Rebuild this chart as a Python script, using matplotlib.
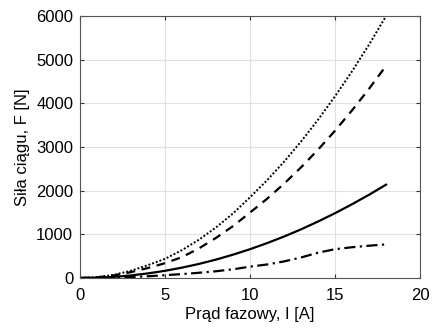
import numpy as np
import matplotlib
matplotlib.use("Agg")
from matplotlib import pyplot as plt

plt.rcParams["font.family"] = ["Liberation Sans", "DejaVu Sans"]

I = [0, 1, 2, 3, 4, 5, 6, 7, 8, 9, 10, 11, 12, 13, 14, 15, 16, 17, 18]
F_dot = [0, 18, 74, 167, 296, 440, 640, 880, 1160, 1480, 1850, 2239, 2664, 3127, 3626, 4163, 4736, 5347, 6000]
F_dash = [0, 15, 60, 135, 230, 340, 480, 680, 920, 1190, 1500, 1815, 2160, 2535, 2940, 3375, 3840, 4335, 4860]
F_solid = [0, 7, 26, 59, 106, 165, 238, 323, 422, 535, 660, 799, 950, 1115, 1294, 1485, 1690, 1907, 2138]
F_dashdot = [0, 3, 10, 22, 40, 65, 90, 120, 155, 200, 260, 310, 380, 470, 580, 660, 705, 740, 770]

fig = plt.figure(figsize=(4.33, 3.29), dpi=100)
ax = fig.add_axes([0.185, 0.155, 0.785, 0.796])

ax.plot(I, F_dot, color="black", linestyle=(0, (1, 1)), linewidth=1.4)
ax.plot(I, F_dash, color="black", linestyle=(0, (4, 3)), linewidth=1.6)
ax.plot(I, F_solid, color="black", linestyle="-", linewidth=1.6)
ax.plot(I, F_dashdot, color="black", linestyle=(0, (5, 2, 1, 2)), linewidth=1.6)

ax.set_xlim(0, 20)
ax.set_ylim(0, 6000)
ax.set_xticks([0, 5, 10, 15, 20])
ax.set_yticks([0, 1000, 2000, 3000, 4000, 5000, 6000])
ax.grid(True, color="#e0e0e0", linewidth=0.8)
ax.set_axisbelow(True)
ax.tick_params(direction="in", top=True, right=True, length=3, labelsize=12,
               colors="#333333", labelcolor="black")
ax.tick_params(axis="x", pad=7)
ax.tick_params(axis="y", pad=5)
for s in ax.spines.values():
    s.set_color("#555555")

ax.set_xlabel("Prąd fazowy, I [A]", fontsize=12, labelpad=3)
ax.set_ylabel("Siła ciągu, F [N]", fontsize=12, labelpad=4)

fig.savefig("out.png", dpi=100)
